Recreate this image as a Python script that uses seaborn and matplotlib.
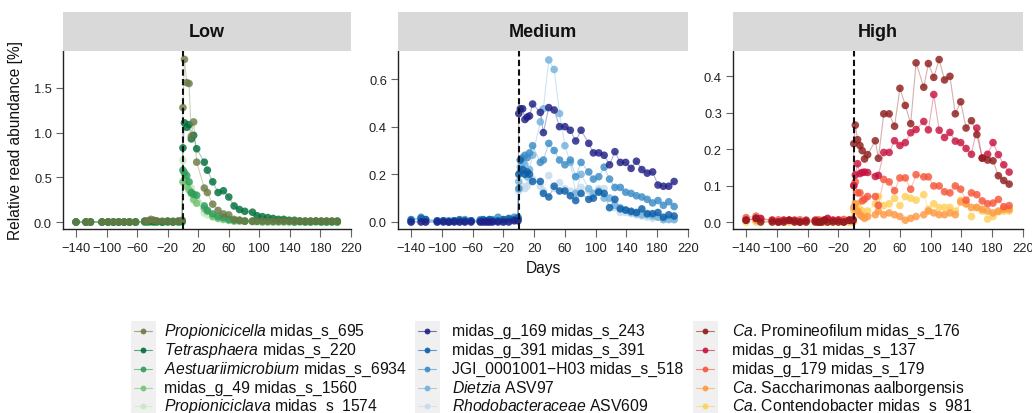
import matplotlib
matplotlib.use("Agg")
import matplotlib.pyplot as plt
import seaborn as sns
import pandas as pd
from matplotlib.patches import Rectangle
from matplotlib.lines import Line2D

sns.set_theme(style="ticks")
plt.rcParams['font.family'] = ['Liberation Sans', 'DejaVu Sans']
plt.rcParams['mathtext.fontset'] = 'custom'
plt.rcParams['mathtext.it'] = 'Liberation Sans:italic'
plt.rcParams['mathtext.rm'] = 'Liberation Sans'
plt.rcParams['mathtext.bf'] = 'Liberation Sans:bold'

# ---------------- data ----------------
pre_days = [-140, -127, -121, -106, -98, -91, -84, -77, -70, -62, -50, -46, -42, -38, -34, -27, -20, -13, -6, -1]
post_days = [0, 2, 5, 8, 11, 14, 18, 28, 32, 39, 46, 53, 60, 67, 74, 81, 91, 97, 104,
             111, 118, 125, 132, 139, 146, 153, 160, 167, 174, 181, 188, 195, 202]

panels = ["Low", "Medium", "High"]

low_names = [r"$\it{Propionicicella}$ midas_s_695", r"$\it{Tetrasphaera}$ midas_s_220",
             r"$\it{Aestuariimicrobium}$ midas_s_6934", "midas_g_49 midas_s_1560",
             r"$\it{Propioniciclava}$ midas_s_1574"]
low_colors = ["#6b7b45", "#00703a", "#2e9e5b", "#74c476", "#c7e9c0"]
low_pre = [
    [0.0, 0.0, 0.0, 0.0, 0.0, 0.0, 0.0, 0.0, 0.0, 0.0, 0.01, 0.01, 0.03, 0.02, 0.01, 0.01, 0.01, 0.0, 0.01, 0.02],
    [0.0, 0.0, 0.0, 0.0, 0.0, 0.0, 0.0, 0.0, 0.0, 0.0, 0.01, 0.01, 0.01, 0.01, 0.01, 0.0, 0.01, 0.0, 0.01, 0.01],
    [0.0, 0.0, 0.0, 0.0, 0.0, 0.0, 0.0, 0.0, 0.0, 0.0, 0.0, 0.0, 0.01, 0.0, 0.0, 0.0, 0.0, 0.01, 0.0, 0.01],
    [0.0, 0.0, 0.0, 0.0, 0.0, 0.0, 0.0, 0.0, 0.0, 0.0, 0.0, 0.0, 0.0, 0.0, 0.0, 0.0, 0.0, 0.0, 0.0, 0.0],
    [0.0, 0.0, 0.0, 0.0, 0.0, 0.0, 0.0, 0.0, 0.0, 0.0, 0.0, 0.0, 0.0, 0.0, 0.0, 0.0, 0.0, 0.0, 0.0, 0.0],
]
low_post = [
    [1.28, 1.82, 1.56, 1.55, 0.96, 1.12, 0.67, 0.38, 0.33, 0.20, 0.13, 0.09, 0.08, 0.03, 0.02, 0.01, 0.01,
     0.01, 0.01, 0.01, 0.01, 0.01, 0.01, 0.01, 0.01, 0.01, 0.01, 0.01, 0.01, 0.01, 0.01, 0.01, 0.01],
    [0.83, 1.11, 1.06, 1.09, 0.93, 0.97, 0.82, 0.67, 0.58, 0.45, 0.33, 0.35, 0.28, 0.18, 0.14, 0.12, 0.11,
     0.07, 0.06, 0.05, 0.04, 0.03, 0.03, 0.02, 0.02, 0.01, 0.01, 0.01, 0.01, 0.01, 0.01, 0.01, 0.01],
    [0.58, 0.55, 0.52, 0.45, 0.33, 0.31, 0.30, 0.18, 0.13, 0.09, 0.06, 0.05, 0.03, 0.02, 0.02, 0.01, 0.01,
     0.01, 0.01, 0.01, 0.01, 0.01, 0.01, 0.01, 0.0, 0.01, 0.0, 0.0, 0.01, 0.0, 0.0, 0.0, 0.0],
    [0.45, 0.47, 0.40, 0.36, 0.32, 0.25, 0.21, 0.15, 0.12, 0.06, 0.04, 0.03, 0.02, 0.01, 0.01, 0.01, 0.01,
     0.01, 0.0, 0.0, 0.0, 0.0, 0.0, 0.0, 0.0, 0.0, 0.0, 0.0, 0.0, 0.0, 0.0, 0.0, 0.0],
    [0.69, 0.55, 0.45, 0.42, 0.38, 0.30, 0.22, 0.10, 0.08, 0.06, 0.04, 0.03, 0.02, 0.01, 0.01, 0.01, 0.0,
     0.0, 0.0, 0.0, 0.0, 0.0, 0.0, 0.0, 0.0, 0.0, 0.0, 0.0, 0.0, 0.0, 0.0, 0.0, 0.0],
]

med_names = ["midas_g_169 midas_s_243", "midas_g_391 midas_s_391", "JGI_0001001\u2212H03 midas_s_518",
             r"$\it{Dietzia}$ ASV97", r"$\it{Rhodobacteraceae}$ ASV609"]
med_colors = ["#1f1f85", "#0a5ea8", "#3a8cc6", "#72b1dc", "#c6dbef"]
med_pre = [
    [0.0, 0.0, 0.0, 0.0, 0.0, 0.0, 0.0, 0.0, 0.0, 0.0, 0.0, 0.0, 0.0, 0.0, 0.0, 0.0, 0.0, 0.0, 0.005, 0.005],
    [0.01, 0.015, 0.01, 0.005, 0.005, 0.0, 0.005, 0.01, 0.005, 0.005, 0.005, 0.01, 0.005, 0.01, 0.005, 0.005, 0.01, 0.015, 0.01, 0.015],
    [0.005, 0.02, 0.01, 0.005, 0.005, 0.005, 0.005, 0.005, 0.01, 0.005, 0.01, 0.005, 0.005, 0.01, 0.01, 0.02, 0.01, 0.01, 0.02, 0.02],
    [0.0, 0.005, 0.0, 0.0, 0.005, 0.0, 0.005, 0.0, 0.0, 0.005, 0.0, 0.005, 0.0, 0.0, 0.005, 0.005, 0.0, 0.005, 0.01, 0.01],
    [0.0, 0.0, 0.005, 0.0, 0.0, 0.005, 0.0, 0.0, 0.005, 0.0, 0.0, 0.0, 0.005, 0.0, 0.0, 0.0, 0.005, 0.0, 0.005, 0.005],
]
med_post = [
    [0.455, 0.475, 0.475, 0.43, 0.44, 0.445, 0.495, 0.46, 0.375, 0.48, 0.47, 0.40, 0.40, 0.385, 0.34, 0.385, 0.33,
     0.29, 0.29, 0.28, 0.24, 0.295, 0.25, 0.25, 0.225, 0.255, 0.22, 0.205, 0.21, 0.155, 0.15, 0.15, 0.17],
    [0.20, 0.26, 0.22, 0.20, 0.21, 0.20, 0.17, 0.17, 0.12, 0.105, 0.15, 0.13, 0.13, 0.11, 0.09, 0.12, 0.095,
     0.10, 0.125, 0.12, 0.06, 0.095, 0.055, 0.05, 0.045, 0.04, 0.055, 0.035, 0.035, 0.04, 0.02, 0.03, 0.025],
    [0.14, 0.21, 0.27, 0.28, 0.27, 0.29, 0.32, 0.25, 0.26, 0.33, 0.30, 0.26, 0.24, 0.26, 0.19, 0.25, 0.21,
     0.18, 0.19, 0.23, 0.18, 0.145, 0.145, 0.125, 0.12, 0.11, 0.105, 0.095, 0.08, 0.09, 0.07, 0.085, 0.065],
    [0.17, 0.23, 0.25, 0.24, 0.19, 0.22, 0.28, 0.42, 0.475, 0.68, 0.64, 0.455, 0.32, 0.25, 0.12, 0.20, 0.14,
     0.12, 0.13, 0.10, 0.10, 0.07, 0.06, 0.05, 0.04, 0.035, 0.03, 0.03, 0.025, 0.02, 0.01, 0.01, 0.01],
    [0.13, 0.14, 0.15, 0.14, 0.15, 0.17, 0.18, 0.15, 0.13, 0.195, 0.14, 0.165, 0.14, 0.13, 0.125, 0.145, 0.13,
     0.12, 0.14, 0.14, 0.10, 0.06, 0.04, 0.04, 0.035, 0.03, 0.025, 0.02, 0.015, 0.02, 0.01, 0.015, 0.01],
]

high_names = [r"$\it{Ca}$. Promineofilum midas_s_176", "midas_g_31 midas_s_137", "midas_g_179 midas_s_179",
              r"$\it{Ca}$. Saccharimonas aalborgensis", r"$\it{Ca}$. Contendobacter midas_s_981"]
high_colors = ["#8e1c1c", "#c8123f", "#f6553a", "#fd9a45", "#fed05c"]
high_pre = [
    [0.005, 0.01, 0.0, 0.0, 0.0, 0.0, 0.005, 0.0, 0.0, 0.0, 0.0, 0.0, 0.0, 0.005, 0.0, 0.0, 0.0, 0.0, 0.005, 0.005],
    [0.005, 0.01, 0.01, 0.005, 0.0, 0.005, 0.005, 0.005, 0.0, 0.005, 0.005, 0.0, 0.0, 0.005, 0.01, 0.005, 0.005, 0.0, 0.005, 0.005],
    [0.012, 0.016, 0.008, 0.005, 0.006, 0.005, 0.004, 0.003, 0.006, 0.004, 0.002, 0.006, 0.003, 0.005, 0.008, 0.004, 0.006, 0.007, 0.004, 0.008],
    [0.005, 0.005, 0.005, 0.0, 0.0, 0.0, 0.005, 0.0, 0.0, 0.0, 0.005, 0.0, 0.005, 0.0, 0.0, 0.005, 0.0, 0.0, 0.005, 0.0],
    [0.0, 0.0, 0.0, 0.005, 0.0, 0.0, 0.0, 0.005, 0.0, 0.0, 0.0, 0.0, 0.0, 0.005, 0.0, 0.0, 0.0, 0.005, 0.0, 0.005],
]
high_post = [
    [0.215, 0.266, 0.226, 0.21, 0.196, 0.173, 0.185, 0.223, 0.175, 0.297, 0.297, 0.263, 0.367, 0.32, 0.27, 0.437, 0.37,
     0.435, 0.397, 0.446, 0.39, 0.40, 0.297, 0.33, 0.258, 0.278, 0.24, 0.175, 0.17, 0.168, 0.127, 0.114, 0.104],
    [0.10, 0.129, 0.16, 0.133, 0.136, 0.137, 0.136, 0.125, 0.128, 0.191, 0.191, 0.223, 0.21, 0.218, 0.245, 0.254, 0.276,
     0.253, 0.35, 0.252, 0.232, 0.246, 0.222, 0.218, 0.202, 0.186, 0.258, 0.176, 0.186, 0.218, 0.185, 0.157, 0.137],
    [0.10, 0.11, 0.08, 0.08, 0.058, 0.063, 0.07, 0.07, 0.046, 0.117, 0.11, 0.086, 0.121, 0.121, 0.09, 0.13, 0.124,
     0.124, 0.099, 0.099, 0.083, 0.08, 0.099, 0.09, 0.06, 0.08, 0.075, 0.058, 0.05, 0.052, 0.062, 0.042, 0.045],
    [0.04, 0.05, 0.03, 0.02, 0.015, 0.01, 0.015, 0.02, 0.03, 0.02, 0.025, 0.02, 0.015, 0.005, 0.01, 0.015, 0.02,
     0.03, 0.025, 0.02, 0.02, 0.025, 0.02, 0.055, 0.05, 0.04, 0.04, 0.035, 0.03, 0.025, 0.03, 0.035, 0.035],
    [0.03, 0.045, 0.05, 0.035, 0.03, 0.02, 0.03, 0.05, 0.07, 0.045, 0.05, 0.065, 0.045, 0.07, 0.065, 0.06, 0.075,
     0.035, 0.05, 0.04, 0.04, 0.04, 0.03, 0.06, 0.05, 0.015, 0.04, 0.03, 0.008, 0.015, 0.028, 0.03, 0.03],
]

x_ticks = [-140, -100, -60, -20, 20, 60, 100, 140, 180, 220]
x_ticklabels = ["\u2212140", "\u2212100", "\u221260", "\u221220", "20", "60", "100", "140", "180", "220"]
low_yticks = [0.0, 0.5, 1.0, 1.5]
med_yticks = [0.0, 0.2, 0.4, 0.6]
high_yticks = [0.0, 0.1, 0.2, 0.3, 0.4]

panel_data = {
    "Low": (low_names, low_colors, low_pre, low_post, low_yticks, (-0.078, 1.914)),
    "Medium": (med_names, med_colors, med_pre, med_post, med_yticks, (-0.0294, 0.7175)),
    "High": (high_names, high_colors, high_pre, high_post, high_yticks, (-0.0192, 0.4695)),
}

# ---------------- figure ----------------
W, H = 1032, 414
fig = plt.figure(figsize=(W / 100, H / 100), dpi=100)
fig.patch.set_facecolor("white")

ax_px = {"Low": (63, 351), "Medium": (398, 688), "High": (733, 1023)}
ax_top, ax_bot = 52, 230
strip_top = 13

for p in panels:
    names, colors, pre, post, yt, ylim = panel_data[p]
    x0, x1 = ax_px[p]
    ax = fig.add_axes([x0 / W, 1 - ax_bot / H, (x1 - x0) / W, (ax_bot - ax_top) / H])
    rows = []
    for n, pr, po in zip(names, pre, post):
        for d, v in zip(pre_days + post_days, pr + po):
            rows.append((n, d, v))
    df = pd.DataFrame(rows, columns=["Species", "Days", "Abundance"])
    pal = dict(zip(names, colors))
    sns.lineplot(data=df, x="Days", y="Abundance", hue="Species", hue_order=names[::-1],
                 palette=pal, estimator=None, sort=True, lw=0.8, alpha=0.35,
                 legend=False, ax=ax, zorder=2)
    df_pts = pd.concat([df[df.Species == n] for n in names[::-1]])
    sns.scatterplot(data=df_pts, x="Days", y="Abundance", hue="Species", palette=pal,
                    s=30, alpha=0.82, linewidth=0, legend=False, ax=ax, zorder=3)
    ax.axvline(0, color="#111111", lw=1.5, ls=(0, (3, 1.6)), zorder=4)
    ax.set_xlim(-157, 220)
    ax.set_ylim(*ylim)
    ax.set_xticks(x_ticks)
    ax.set_xticklabels(x_ticklabels)
    ax.set_yticks(yt)
    ax.set_yticklabels([f"{v:.1f}" for v in yt])
    ax.set_xlabel("")
    ax.set_ylabel("")
    for s in ["top", "right"]:
        ax.spines[s].set_visible(False)
    for s in ["left", "bottom"]:
        ax.spines[s].set_color("#222222")
        ax.spines[s].set_linewidth(1.0)
    ax.tick_params(axis="x", length=5.4, width=0.8, color="#666666", labelsize=9.3,
                   pad=4.0, labelcolor="#222222")
    ax.tick_params(axis="y", length=5.0, width=0.8, color="#666666", labelsize=9.3,
                   pad=3.0, labelcolor="#222222")
    # strip
    fig.patches.append(Rectangle((x0 / W, 1 - ax_top / H), (x1 - x0) / W, (ax_top - strip_top) / H,
                                 transform=fig.transFigure, facecolor="#d9d9d9", edgecolor="none",
                                 zorder=0))
    fig.text((x0 + x1) / 2 / W, 1 - (ax_top + strip_top) / 2 / H, p, ha="center", va="center",
             fontsize=13, fontweight="bold", color="#111111")

fig.text(16 / W, 1 - 141 / H, "Relative read abundance [%]", rotation=90, ha="center",
         va="center", fontsize=11.2, color="#111111")
fig.text(543 / W, 1 - 269 / H, "Days", ha="center", va="center", fontsize=11.2, color="#111111")

# ---------------- legend ----------------
key_x = [143, 427, 705]
text_x = [164, 452, 732]
row_y = [331.5, 350.5, 369.5, 388.5, 406.5]
for ci, p in enumerate(panels):
    names, colors = panel_data[p][0], panel_data[p][1]
    kx = key_x[ci]
    fig.patches.append(Rectangle(((kx - 12.5) / W, 0), 25 / W, (H - 322) / H,
                                 transform=fig.transFigure, facecolor="#f0f0f0",
                                 edgecolor="none", zorder=0))
    for ri, (n, c) in enumerate(zip(names, colors)):
        y = 1 - row_y[ri] / H
        fig.add_artist(Line2D([(kx - 9) / W, (kx + 9) / W], [y, y], transform=fig.transFigure,
                              color=c, lw=0.8, alpha=0.6))
        fig.add_artist(Line2D([kx / W], [y], transform=fig.transFigure, color=c, marker="o",
                              markersize=4.2, markeredgewidth=0, alpha=0.9, lw=0))
        fig.text(text_x[ci] / W, y, n, ha="left", va="center", fontsize=11.3, color="#111111")

fig.savefig("out.png", dpi=100, facecolor="white")
